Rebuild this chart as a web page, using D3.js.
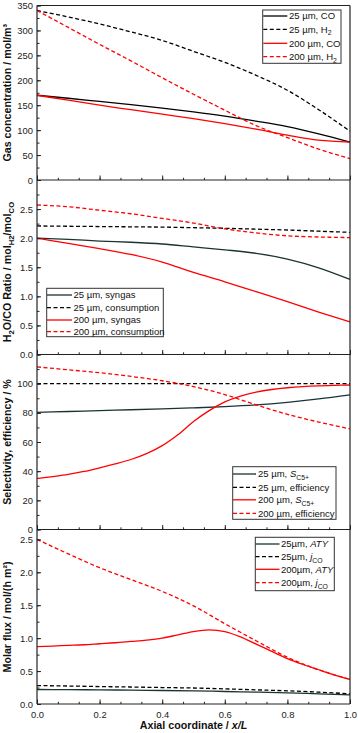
<!DOCTYPE html>
<html><head><meta charset="utf-8">
<script src="https://cdn.jsdelivr.net/npm/d3@7"></script>
<style>
body{margin:0;background:#fff}
svg{display:block}
text{font-family:"Liberation Sans",Arial,sans-serif}
</style>
</head><body>
<svg id="c" width="358" height="733"></svg>
<script>
// ---------- DATA ----------
const xCoarse = [0,0.1,0.2,0.3,0.4,0.5,0.6,0.7,0.8,0.9,1.0];
const xFine = [0,0.05,0.1,0.15,0.2,0.25,0.3,0.35,0.4,0.45,0.5,0.55,0.6,0.65,0.7,0.75,0.8,0.85,0.9,0.95,1.0];
const xTicks = [0,0.2,0.4,0.6,0.8,1.0];

// Panel 1: gas concentration / mol/m3
const conc25CO  = [170,164,157.5,151,144,136.5,128,118,107,92.5,76];
const conc25H2  = [340,327,313,297,280,258,236,210,180,141,98];
const conc200CO = [170,160,150,141,132,123,113,102,90,80,76];
const conc200H2 = [340,306,272,239,205,172,140,109,85,62,43];

// Panel 2: H2/CO ratio
const ratio25Syngas  = [2.0,1.98,1.95,1.93,1.90,1.85,1.80,1.74,1.64,1.49,1.29];
const ratio25Cons    = [2.21,2.205,2.20,2.195,2.19,2.18,2.17,2.155,2.14,2.12,2.10];
const ratio200Syngas = [2.0,1.91,1.82,1.72,1.59,1.41,1.25,1.08,0.91,0.73,0.56];
const ratio200Cons   = [2.57,2.54,2.48,2.42,2.34,2.26,2.16,2.09,2.04,2.02,2.01];

// Panel 3: selectivity / efficiency %
const sel25     = [80.3,80.9,81.5,82.1,82.7,83.4,84.2,85.4,87.2,89.5,92.3];
const eff25     = [100,100,100,100,100,100,100,100,100,100,100];
const sel200    = [35,36.3,37.8,39.8,42.3,45,48,52,57.5,65,74,81.5,87.5,91.5,94.2,96,97.2,98,98.5,98.8,99.1];
const eff200    = [111.5,109.5,107.5,105,102,98,92.5,85.5,79,73.7,69];

// Panel 4: molar flux
const aty25  = [0.22,0.218,0.215,0.21,0.205,0.20,0.19,0.18,0.17,0.155,0.14];
const jco25  = [0.28,0.273,0.265,0.258,0.25,0.243,0.23,0.215,0.20,0.18,0.155];
const aty200 = [0.87,0.88,0.89,0.90,0.915,0.93,0.95,0.97,1.00,1.05,1.10,1.125,1.10,1.02,0.91,0.80,0.69,0.60,0.52,0.44,0.375];
const jco200 = [2.5,2.28,2.07,1.89,1.71,1.49,1.22,0.96,0.71,0.52,0.375];

// Ticks / labels
const p1Ticks = [0,50,100,150,200,250,300,350];
const p2Ticks = [0,0.5,1.0,1.5,2.0,2.5];
const p3Ticks = [0,20,40,60,80,100];
const p4Ticks = [0,0.5,1.0,1.5,2.0,2.5];

// ---------- STYLE ----------
const BLACK = "#000000", TEAL = "#1b3333", RED = "#ff0000";
const DASH = "4,2.5";

const svg = d3.select("#c");
const L = 37, R = 350;
const x = d3.scaleLinear().domain([0,1]).range([L,R]);

const panels = [
  {top:5.5, bottom:180, domain:[0,350], ticks:p1Ticks, minor:25, fmt:d3.format("d"),
   title:[{t:"Gas concentration / mol/m³"}], titleY:92.7,
   series:[
     {xs:xCoarse, ys:conc25CO, c:BLACK, d:null, label:[{t:"25 µm, CO"}]},
     {xs:xCoarse, ys:conc25H2, c:BLACK, d:DASH, label:[{t:"25 µm, H"},{t:"2",sub:true}]},
     {xs:xCoarse, ys:conc200CO, c:RED, d:null, label:[{t:"200 µm, CO"}]},
     {xs:xCoarse, ys:conc200H2, c:RED, d:DASH, label:[{t:"200 µm, H"},{t:"2",sub:true}]}
   ],
   legend:{x0:262.7,y0:10,x1:341,y1:63.3,s0:263.3,s1:287.3,tx:289,rows:[16,29.3,43.3,56.7]}},
  {top:180, bottom:354.5, domain:[0,3], ticks:p2Ticks, minor:0.25, fmt:d3.format(".1f"),
   title:[{t:"H"},{t:"2",sub:true},{t:"O/CO Ratio / mol"},{t:"H2",sub:true},{t:"/mol"},{t:"CO",sub:true}], titleY:272,
   series:[
     {xs:xCoarse, ys:ratio25Syngas, c:TEAL, d:null, label:[{t:"25 µm, syngas"}]},
     {xs:xCoarse, ys:ratio25Cons, c:BLACK, d:DASH, label:[{t:"25 µm, consumption"}]},
     {xs:xCoarse, ys:ratio200Syngas, c:RED, d:null, label:[{t:"200 µm, syngas"}]},
     {xs:xCoarse, ys:ratio200Cons, c:RED, d:DASH, label:[{t:"200 µm, consumption"}]}
   ],
   legend:{x0:46.7,y0:288.3,x1:163.3,y1:336.7,s0:47,s1:72,tx:73.5,rows:[295,307.7,320,331.7]}},
  {top:354.5, bottom:529.5, domain:[0,120], ticks:p3Ticks, minor:10, fmt:d3.format("d"),
   title:[{t:"Selectivity, efficiency / %"}], titleY:442,
   series:[
     {xs:xCoarse, ys:sel25, c:TEAL, d:null, label:[{t:"25 µm, "},{t:"S",it:true},{t:"C5+",sub:true}]},
     {xs:xCoarse, ys:eff25, c:BLACK, d:DASH, label:[{t:"25 µm, efficiency"}]},
     {xs:xFine, ys:sel200, c:RED, d:null, label:[{t:"200 µm, "},{t:"S",it:true},{t:"C5+",sub:true}]},
     {xs:xCoarse, ys:eff200, c:RED, d:DASH, label:[{t:"200 µm, efficiency"}]}
   ],
   legend:{x0:232.7,y0:466.7,x1:336,y1:519.3,s0:233,s1:256,tx:258,rows:[474,487.3,499.8,513.3]}},
  {top:529.5, bottom:704, domain:[0,2.65], ticks:p4Ticks, minor:0.25, fmt:d3.format(".1f"),
   title:[{t:"Molar flux / mol/(h m²)"}], titleY:617,
   series:[
     {xs:xCoarse, ys:aty25, c:TEAL, d:null, label:[{t:"25µm, "},{t:"ATY",it:true}]},
     {xs:xCoarse, ys:jco25, c:BLACK, d:DASH, label:[{t:"25µm, "},{t:"j",it:true},{t:"CO",sub:true}]},
     {xs:xFine, ys:aty200, c:RED, d:null, label:[{t:"200µm, "},{t:"ATY",it:true}]},
     {xs:xCoarse, ys:jco200, c:RED, d:DASH, label:[{t:"200µm, "},{t:"j",it:true},{t:"CO",sub:true}]}
   ],
   legend:{x0:255.3,y0:537.3,x1:334.3,y1:590.7,s0:255.5,s1:279.5,tx:281,rows:[544,556.7,569.3,582.7]}}
];

function rich(sel, segs, size){
  let shift = 0;
  segs.forEach(s=>{
    const ts = sel.append("tspan").text(s.t);
    if(s.it) ts.attr("font-style","italic");
    if(s.sub){
      ts.attr("font-size", size*0.72);
      if(!shift){ ts.attr("dy", size*0.28); shift = size*0.28; }
    } else if(shift){
      ts.attr("dy", -shift); shift = 0;
    }
  });
}

panels.forEach((p,pi)=>{
  const y = d3.scaleLinear().domain(p.domain).range([p.bottom,p.top]);
  const g = svg.append("g");

  // series
  const line = d3.line().curve(d3.curveMonotoneX);
  p.series.forEach(s=>{
    const pts = s.xs.map((xv,i)=>[x(xv), y(s.ys[i])]);
    g.append("path").attr("d", line(pts)).attr("fill","none")
      .attr("stroke", s.c).attr("stroke-width",1.3)
      .attr("stroke-dasharray", s.d);
  });

  // y axis major
  const minorVals = d3.range(p.domain[0], p.domain[1]+1e-9, p.minor);
  const ya = g.append("g").attr("transform",`translate(${L},0)`)
    .call(d3.axisLeft(y).tickValues(p.ticks).tickSize(-4).tickPadding(4).tickFormat(p.fmt));
  ya.select(".domain").remove();
  ya.selectAll("line").attr("stroke","#222");
  ya.selectAll("text").attr("font-size",9.4).attr("fill","#222");
  const ym = g.append("g").attr("transform",`translate(${L},0)`)
    .call(d3.axisLeft(y).tickValues(minorVals).tickSize(-2.5).tickFormat(""));
  ym.select(".domain").remove();
  ym.selectAll("line").attr("stroke","#222");

  // x axis
  const xa = g.append("g").attr("transform",`translate(0,${p.bottom})`)
    .call(d3.axisBottom(x).tickValues(xTicks).tickSize(-4.5).tickPadding(7)
      .tickFormat(pi===3 ? d3.format(".1f") : ""));
  xa.select(".domain").remove();
  xa.selectAll("line").attr("stroke","#222");
  xa.selectAll("text").attr("font-size",9.4).attr("fill","#222");
  const xMinor = d3.range(0,1.0001,1/15);
  const xm = g.append("g").attr("transform",`translate(0,${p.bottom})`)
    .call(d3.axisBottom(x).tickValues(xMinor).tickSize(-2.2).tickFormat(""));
  xm.select(".domain").remove();
  xm.selectAll("line").attr("stroke","#222");

  g.append("line").attr("x1",L).attr("x2",R).attr("y1",p.bottom).attr("y2",p.bottom)
    .attr("stroke","#222").attr("stroke-width",1);

  // y title
  const tt = g.append("text").attr("transform",`translate(10.8,${p.titleY}) rotate(-90)`)
    .attr("text-anchor","middle").attr("font-weight","bold").attr("font-size",10.7).attr("fill","#111");
  rich(tt, p.title, 10.7);

  // legend
  const lg = p.legend;
  g.append("rect").attr("x",lg.x0).attr("y",lg.y0).attr("width",lg.x1-lg.x0).attr("height",lg.y1-lg.y0)
    .attr("fill","#fff").attr("stroke","#333").attr("stroke-width",1);
  p.series.forEach((s,i)=>{
    const ry = lg.rows[i];
    g.append("line").attr("x1",lg.s0).attr("x2",lg.s1).attr("y1",ry).attr("y2",ry)
      .attr("stroke",s.c).attr("stroke-width",1.3).attr("stroke-dasharray",s.d);
    const t = g.append("text").attr("x",lg.tx).attr("y",ry+3.4).attr("font-size",9.5).attr("fill","#111");
    rich(t, s.label, 9.5);
  });
});

// frame
svg.append("line").attr("x1",L).attr("x2",L).attr("y1",5.5).attr("y2",704).attr("stroke","#222").attr("stroke-width",1.2);
svg.append("line").attr("x1",R).attr("x2",R).attr("y1",5.5).attr("y2",704).attr("stroke","#222").attr("stroke-width",1.2);
svg.append("line").attr("x1",L).attr("x2",R).attr("y1",5.5).attr("y2",5.5).attr("stroke","#222").attr("stroke-width",1.2);

// x title
const xt = svg.append("text").attr("x",(L+R)/2).attr("y",729).attr("text-anchor","middle")
  .attr("font-weight","bold").attr("font-size",10.7).attr("fill","#111");
rich(xt, [{t:"Axial coordinate / "},{t:"x/L",it:true}], 10.7);
</script>
</body></html>
